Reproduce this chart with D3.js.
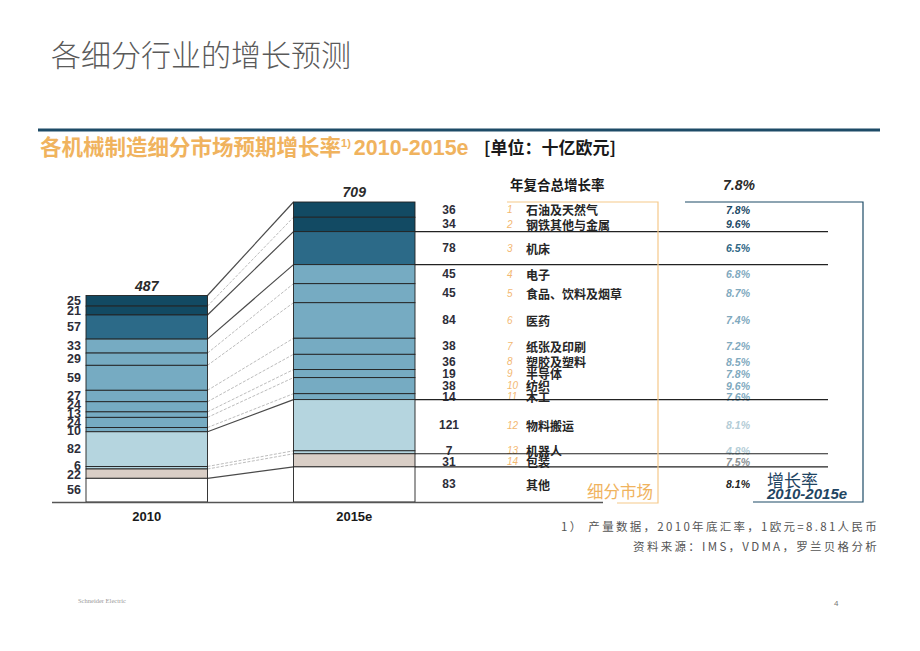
<!DOCTYPE html>
<html>
<head>
<meta charset="utf-8">
<script src="https://cdn.jsdelivr.net/npm/d3@7"></script>
<style>
  html, body { margin: 0; padding: 0; background: #ffffff; }
  svg { display: block; }
  .num { font-family: "Liberation Sans", Arial, sans-serif; }
  .cjk { font-family: "Noto Sans CJK SC", "Liberation Sans", sans-serif; }
</style>
</head>
<body>
<script>
// ---------------- DATA ----------------
const categories = ["石油及天然气", "钢铁其他与金属", "机床", "电子", "食品、饮料及烟草", "医药",
  "纸张及印刷", "塑胶及塑料", "半导体", "纺织", "木工", "物料搬运", "机器人", "包装", "其他"];
const categoryIndex = ["1","2","3","4","5","6","7","8","9","10","11","12","13","14",""];
const values2010 = [25, 21, 57, 33, 29, 59, 27, 24, 13, 24, 10, 82, 6, 22, 56];
const values2015 = [36, 34, 78, 45, 45, 84, 38, 36, 19, 38, 14, 121, 7, 31, 83];
const growthRates = ["7.8%", "9.6%", "6.5%", "6.8%", "8.7%", "7.4%", "7.2%", "8.5%", "7.8%", "9.6%", "7.6%", "8.1%", "4.8%", "7.5%", "8.1%"];
const years = ["2010", "2015e"];
const totals = [487, 709];
const totalGrowth = "7.8%";
const colorGroup = [0, 0, 1, 2, 2, 2, 2, 2, 2, 2, 2, 3, 3, 4, 5];

// ---------------- STYLE ----------------
const W = 920, H = 651;
const segColors = ["#124a63", "#2c6a88", "#76abc2", "#b5d5df", "#d9cec6", "#ffffff"];
const rateColors = ["#1d4a66", "#2f6785", "#7fa9be", "#b3ccd6", "#8b9194", "#222222"];
const darkConnectorsAfter = [1, 2, 10, 13];     // boundaries drawn solid
const separatorsAfter = [1, 2, 10, 12, 13];     // horizontal rules on the right
const orange = "#f0b35e";
const navy = "#1d4b67";

const svg = d3.select("body").append("svg").attr("width", W).attr("height", H);

// Title
svg.append("text").attr("class", "cjk")
  .attr("x", 51).attr("y", 66)
  .attr("font-size", 30).attr("font-weight", 300).attr("fill", "#5a5a5a")
  .text("各细分行业的增长预测");

// Top navy rule
svg.append("line").attr("x1", 38).attr("x2", 880).attr("y1", 130).attr("y2", 130)
  .attr("stroke", navy).attr("stroke-width", 3);

// Subtitle
const sub = svg.append("text").attr("x", 40).attr("y", 155)
  .attr("fill", orange).attr("font-weight", "bold").attr("font-size", 21.5);
sub.append("tspan").attr("class", "cjk").text("各机械制造细分市场预期增长率");
sub.append("tspan").attr("class", "num").attr("font-size", 11).attr("dy", -8).text("1)");
sub.append("tspan").attr("class", "num").attr("dy", 8).attr("dx", 3).text("2010-2015e");
svg.append("text").attr("class", "cjk").attr("x", 484).attr("y", 154)
  .attr("font-size", 17).attr("font-weight", "bold").attr("fill", "#1a1a1a")
  .text("[单位：十亿欧元]");

// ---------------- SCALES ----------------
const y = d3.scaleLinear().domain([0, 709]).range([502, 202]);
const x = d3.scaleBand().domain(years).range([86, 415]).paddingInner(0.4145).paddingOuter(0);
const bw = x.bandwidth();

const rows = years.map((yr, j) => {
  const o = { year: yr };
  categories.forEach((c, i) => { o[c] = (j === 0 ? values2010 : values2015)[i]; });
  return o;
});
const series = d3.stack().keys(categories).order(d3.stackOrderReverse)(rows);
// series[i] corresponds to categories[i]

// helper: de-overlap labels
function spread(ys, gap) {
  const arr = ys.map((v, i) => ({ v, i }));
  for (let it = 0; it < 100; it++) {
    let moved = false;
    arr.sort((a, b) => a.v - b.v);
    for (let k = 1; k < arr.length; k++) {
      const d = arr[k].v - arr[k - 1].v;
      if (d < gap - 0.01) { const s = (gap - d) / 2; arr[k - 1].v -= s; arr[k].v += s; moved = true; }
    }
    if (!moved) break;
  }
  const out = []; arr.forEach(a => { out[a.i] = a.v; }); return out;
}

// ---------------- CONNECTORS ----------------
const xl = x(years[0]) + bw, xr = x(years[1]);
const conn = svg.append("g");
conn.append("line")
  .attr("x1", xl).attr("y1", y(series[0][0][1]))
  .attr("x2", xr).attr("y2", y(series[0][1][1]))
  .attr("stroke", "#4a4a4a").attr("stroke-width", 1.2);
categories.forEach((c, i) => {
  if (i === categories.length - 1) return;
  const dark = darkConnectorsAfter.includes(i);
  conn.append("line")
    .attr("x1", xl).attr("y1", y(series[i][0][0]))
    .attr("x2", xr).attr("y2", y(series[i][1][0]))
    .attr("stroke", dark ? "#4a4a4a" : "#bdbdbd")
    .attr("stroke-width", dark ? 1.2 : 1)
    .attr("stroke-dasharray", dark ? null : "3,1.5");
});

// ---------------- BARS ----------------
const barG = svg.append("g");
series.forEach((s, i) => {
  barG.selectAll(null).data(s).enter().append("rect")
    .attr("x", d => x(d.data.year))
    .attr("width", bw)
    .attr("y", d => y(d[1]))
    .attr("height", d => y(d[0]) - y(d[1]))
    .attr("fill", segColors[colorGroup[i]])
    .attr("stroke", "#222").attr("stroke-width", 0.9);
});

// Baseline
svg.append("line").attr("x1", 52).attr("x2", 603).attr("y1", y(0) + 0.5).attr("y2", y(0) + 0.5)
  .attr("stroke", "#555").attr("stroke-width", 1.3);

// Totals and year labels
years.forEach((yr, j) => {
  const top = series[0][j][1];
  svg.append("text").attr("class", "num")
    .attr("x", x(yr) + bw / 2).attr("y", y(top) - 5)
    .attr("text-anchor", "middle").attr("font-size", 14)
    .attr("font-weight", "bold").attr("font-style", "italic").attr("fill", "#2a2a2a")
    .text(totals[j]);
  svg.append("text").attr("class", "num")
    .attr("x", x(yr) + bw / 2).attr("y", 521)
    .attr("text-anchor", "middle").attr("font-size", 13)
    .attr("font-weight", "bold").attr("fill", "#1a1a1a")
    .text(yr);
});

// Left value labels
const leftY = spread(series.map(s => y((s[0][0] + s[0][1]) / 2)), 8.6);
categories.forEach((c, i) => {
  svg.append("text").attr("class", "num")
    .attr("x", x(years[0]) - 5).attr("y", leftY[i])
    .attr("dominant-baseline", "central").attr("text-anchor", "end")
    .attr("font-size", 12.5).attr("font-weight", "bold").attr("fill", "#2d2d38")
    .text(values2010[i]);
});

// Right labels (values, list, rates)
const rightY = spread(series.map(s => y((s[1][0] + s[1][1]) / 2)), 11);
categories.forEach((c, i) => {
  svg.append("text").attr("class", "num")
    .attr("x", 449).attr("y", rightY[i])
    .attr("dominant-baseline", "central").attr("text-anchor", "middle")
    .attr("font-size", 12).attr("font-weight", "bold").attr("fill", "#2d2d38")
    .text(values2015[i]);
  svg.append("text").attr("class", "num")
    .attr("x", 507).attr("y", rightY[i])
    .attr("dominant-baseline", "central")
    .attr("font-size", 10).attr("font-style", "italic").attr("fill", "#f3b872")
    .text(categoryIndex[i]);
  svg.append("text").attr("class", "cjk")
    .attr("x", 526).attr("y", rightY[i])
    .attr("dominant-baseline", "central")
    .attr("font-size", 12).attr("font-weight", "bold").attr("fill", "#262626")
    .text(c);
  svg.append("text").attr("class", "num")
    .attr("x", 738).attr("y", rightY[i])
    .attr("dominant-baseline", "central").attr("text-anchor", "middle")
    .attr("font-size", 10.5).attr("font-weight", "bold").attr("font-style", "italic")
    .attr("fill", rateColors[colorGroup[i]])
    .text(growthRates[i]);
});

// Separator rules on the right
separatorsAfter.forEach(i => {
  const yy = y(series[i][1][0]);
  svg.append("line").attr("x1", xr + bw).attr("x2", 828).attr("y1", yy).attr("y2", yy)
    .attr("stroke", "#222").attr("stroke-width", 1.2);
});

// Header row
svg.append("text").attr("class", "cjk").attr("x", 510).attr("y", 190)
  .attr("font-size", 13.5).attr("font-weight", "bold").attr("fill", "#1a1a1a")
  .text("年复合总增长率");
svg.append("text").attr("class", "num").attr("x", 739).attr("y", 190)
  .attr("text-anchor", "middle").attr("font-size", 14)
  .attr("font-weight", "bold").attr("font-style", "italic").attr("fill", "#2a2a2a")
  .text(totalGrowth);

// Orange bracket "细分市场"
svg.append("path")
  .attr("d", `M507,${y(709)} H658 V503 H617`)
  .attr("fill", "none").attr("stroke", "#f5c98a").attr("stroke-width", 1.2);
svg.append("text").attr("class", "cjk").attr("x", 587).attr("y", 498)
  .attr("font-size", 16.5).attr("fill", orange).text("细分市场");

// Navy bracket "增长率 2010-2015e"
svg.append("path")
  .attr("d", `M685,${y(709)} H863 V502 H753`)
  .attr("fill", "none").attr("stroke", navy).attr("stroke-width", 1.2);
svg.append("text").attr("class", "cjk").attr("x", 767).attr("y", 487)
  .attr("font-size", 17).attr("fill", "#1f4563").text("增长率");
svg.append("text").attr("class", "num").attr("x", 767).attr("y", 499)
  .attr("font-size", 15).attr("font-weight", "bold").attr("font-style", "italic")
  .attr("fill", "#1f4563").text("2010-2015e");

// Footnotes
svg.append("text").attr("class", "cjk").attr("x", 879).attr("y", 531)
  .attr("text-anchor", "end").attr("font-size", 11.5).attr("letter-spacing", 2.3)
  .attr("fill", "#555").text("1） 产量数据，2010年底汇率，1欧元=8.81人民币");
svg.append("text").attr("class", "cjk").attr("x", 879).attr("y", 551)
  .attr("text-anchor", "end").attr("font-size", 11.5).attr("letter-spacing", 2.3)
  .attr("fill", "#555").text("资料来源：IMS，VDMA，罗兰贝格分析");

// Footer
svg.append("text").attr("x", 78).attr("y", 603)
  .attr("font-family", "Liberation Serif, serif").attr("font-size", 6.5).attr("fill", "#999")
  .text("Schneider Electric");
svg.append("text").attr("x", 834).attr("y", 606)
  .attr("font-family", "Liberation Sans, sans-serif").attr("font-size", 8).attr("fill", "#777")
  .text("4");
</script>
</body>
</html>
